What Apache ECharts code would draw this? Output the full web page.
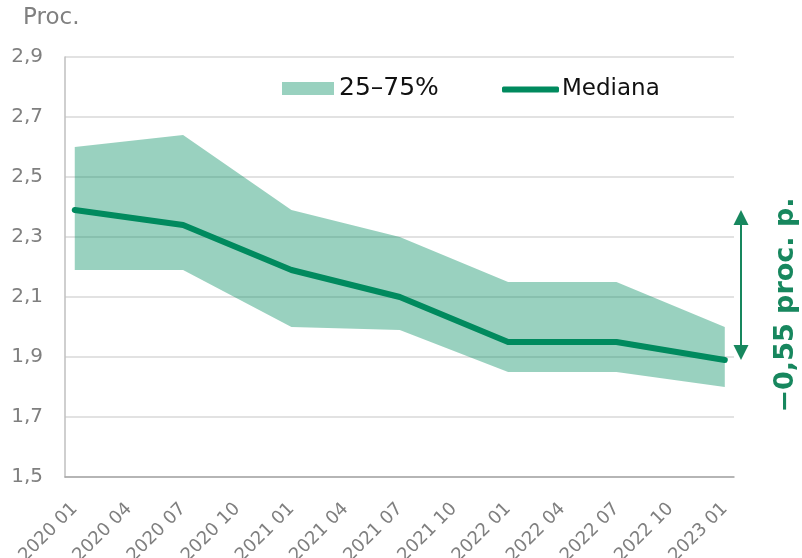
<!DOCTYPE html>
<html>
<head>
<meta charset="utf-8">
<script src="https://cdn.jsdelivr.net/npm/echarts@6/dist/echarts.min.js"></script>
<style>
  html, body { margin: 0; padding: 0; background: #fff; }
  #chart { width: 802px; height: 558px; }
</style>
</head>
<body>
<div id="chart"></div>
<script>
// kwartały na osi X
const quarters = ['2020 01', '2020 04', '2020 07', '2020 10', '2021 01', '2021 04', '2021 07',
  '2021 10', '2022 01', '2022 04', '2022 07', '2022 10', '2023 01'];
// punkty z danymi (co pół roku)
const pointDates = ['2020 01', '2020 07', '2021 01', '2021 07', '2022 01', '2022 07', '2023 01'];
const p25 = [2.19, 2.19, 2.00, 1.99, 1.85, 1.85, 1.80];
const p75 = [2.60, 2.64, 2.39, 2.30, 2.15, 2.15, 2.00];
const median = [2.39, 2.34, 2.19, 2.10, 1.95, 1.95, 1.89];
const changeLabel = '\u22120,55 proc. p.';

const FONT = 'DejaVu Sans';
const GREEN = '#008a5e';
const BAND = 'rgba(0,140,95,0.4)';
const BAND_SOLID = '#99d1bf';
const ARROW = '#17875e';

const xs = pointDates.map(d => quarters.indexOf(d));
const pairs = vals => vals.map((v, i) => [xs[i], v]);
const xMin = -0.18, xMax = 12.17;

// pasmo 25-75% rysowane jako jeden wielokąt
function renderBand(params, api) {
  if (params.dataIndex !== 0) return null;
  const upper = xs.map((x, i) => api.coord([x, p75[i]]));
  const lower = xs.map((x, i) => api.coord([x, p25[i]])).reverse();
  return {
    type: 'polygon',
    shape: { points: upper.concat(lower) },
    style: { fill: BAND }
  };
}

const chart = echarts.init(document.getElementById('chart'));
const option = {
  animation: false,
  textStyle: { fontFamily: FONT },
  title: {
    text: 'Proc.',
    left: 18, top: 2,
    textStyle: { fontFamily: FONT, fontSize: 23, fontWeight: 'normal', color: '#808080' }
  },
  legend: [
    {
      data: [{ name: '25\u201375%', icon: 'rect' }],
      left: 282, top: 76, padding: 0,
      itemWidth: 52, itemHeight: 13, itemGap: 5,
      textStyle: { fontFamily: FONT, fontSize: 25, color: '#111' }
    },
    {
      data: [{ name: 'Mediana', icon: 'roundRect' }],
      left: 502, top: 78, padding: 0,
      itemWidth: 57, itemHeight: 6,
      textStyle: { fontFamily: FONT, fontSize: 23, color: '#111', padding: [0, 0, 0, -2] }
    }
  ],
  grid: { left: 65, right: 68, top: 57, bottom: 81, outerBoundsMode: 'none' },
  xAxis: {
    type: 'value',
    min: xMin, max: xMax,
    axisLine: { show: true, onZero: false, lineStyle: { color: '#a6a6a6', width: 1.5 } },
    axisTick: { show: false },
    splitLine: { show: false },
    axisLabel: {
      customValues: quarters.map((q, i) => i),
      formatter: v => quarters[Math.round(v)],
      rotate: 45,
      margin: 29,
      fontSize: 18,
      color: '#7f7f7f',
      fontFamily: FONT
    }
  },
  yAxis: {
    type: 'value',
    min: 1.5, max: 2.9, interval: 0.2,
    axisLine: { show: true, onZero: false, lineStyle: { color: '#bfbfbf', width: 1.5 } },
    axisTick: { show: false },
    splitLine: { lineStyle: { color: '#d9d9d9', width: 1.5 } },
    axisLabel: {
      formatter: v => v.toFixed(1).replace('.', ','),
      margin: 22,
      fontSize: 20,
      color: '#7f7f7f',
      fontFamily: FONT
    }
  },
  series: [
    {
      name: '25\u201375%',
      type: 'custom',
      renderItem: renderBand,
      data: pairs(p75),
      encode: { x: 0, y: 1 },
      itemStyle: { color: BAND_SOLID },
      silent: true,
      z: 2
    },
    {
      name: 'Mediana',
      type: 'line',
      data: pairs(median),
      symbol: 'none',
      itemStyle: { color: GREEN },
      lineStyle: { color: GREEN, width: 6, cap: 'round', join: 'round' },
      z: 5
    }
  ]
};
chart.setOption(option);

// strzałka zmiany mediany
const pTop = chart.convertToPixel({ gridIndex: 0 }, [xMax, median[0]]);
const pBot = chart.convertToPixel({ gridIndex: 0 }, [xMax, median[median.length - 1]]);
const ax = pTop[0] + 7;
const head = 15;
chart.setOption({
  graphic: [
    {
      type: 'line',
      shape: { x1: ax, y1: pTop[1] + head, x2: ax, y2: pBot[1] - head },
      style: { stroke: ARROW, lineWidth: 2 }
    },
    {
      type: 'polygon',
      shape: { points: [[ax, pTop[1]], [ax - 7.5, pTop[1] + head], [ax + 7.5, pTop[1] + head]] },
      style: { fill: ARROW }
    },
    {
      type: 'polygon',
      shape: { points: [[ax, pBot[1]], [ax - 7.5, pBot[1] - head], [ax + 7.5, pBot[1] - head]] },
      style: { fill: ARROW }
    },
    {
      type: 'text',
      x: 786, y: 305,
      rotation: Math.PI / 2,
      style: {
        text: changeLabel,
        fill: ARROW,
        font: 'bold 27px "DejaVu Sans"',
        align: 'center',
        verticalAlign: 'middle'
      }
    }
  ]
});
</script>
</body>
</html>
